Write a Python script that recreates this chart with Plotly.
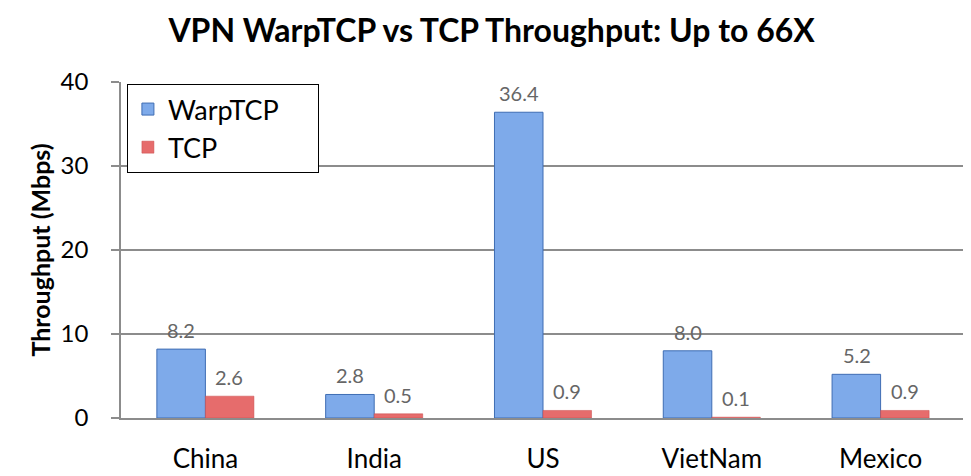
import plotly.graph_objects as go

countries = ["China", "India", "US", "VietNam", "Mexico"]
warptcp = [8.2, 2.8, 36.4, 8.0, 5.2]
tcp = [2.6, 0.5, 0.9, 0.1, 0.9]
y_ticks = [0, 10, 20, 30, 40]

FONT = "Lato, Carlito, Calibri, sans-serif"
PAD = "\u00a0\u00a0\u00a0\u00a0\u00a0"

fig = go.Figure()
fig.add_trace(go.Bar(
    x=countries, y=warptcp, name="WarpTCP" + PAD, legendgroup="a",
    marker=dict(color="#7eaaea", line=dict(color="#3f6db3", width=1)),
))
fig.add_trace(go.Bar(
    x=countries, y=tcp, name="TCP", legendgroup="b",
    marker=dict(color="#e66c6c", line=dict(color="#c94b4b", width=0.5)),
))

for vals, shift in ((warptcp, -24), (tcp, 24)):
    for c, v in zip(countries, vals):
        fig.add_annotation(
            x=c, y=v, xref="x", yref="y", text=f"{v:.1f}", showarrow=False,
            xshift=shift, yshift=5, yanchor="bottom",
            font=dict(family=FONT, size=20, color="#666666"),
        )

fig.update_layout(
    width=971, height=476,
    margin=dict(l=113, r=14, t=74, b=66, autoexpand=False),
    paper_bgcolor="white", plot_bgcolor="white",
    barmode="group", bargap=0.425, bargroupgap=0,
    title=dict(
        text="<b>VPN WarpTCP vs TCP Throughput: Up to 66X</b>",
        x=0.498, xanchor="center", y=0.952, yanchor="middle",
        font=dict(family=FONT, size=32, color="black"),
    ),
    font=dict(family=FONT, color="black"),
    legend=dict(
        x=0.007, y=0.994, xanchor="left", yanchor="top",
        bgcolor="white", bordercolor="black", borderwidth=1,
        font=dict(family=FONT, size=27, color="black"),
        tracegroupgap=0, itemwidth=30,
    ),
    showlegend=True,
)

fig.update_yaxes(
    range=[0, 40], tickvals=y_ticks, ticktext=[str(t) for t in y_ticks],
    showgrid=True, gridcolor="#8c8c8c", gridwidth=1.5,
    showline=True, linecolor="#8c8c8c", linewidth=1.5,
    ticks="outside", ticklen=8, tickcolor="#8c8c8c", tickwidth=1.5,
    ticklabelstandoff=18,
    tickfont=dict(family=FONT, size=24, color="black"),
    title=dict(text="<b>Throughput (Mbps)</b>", font=dict(family=FONT, size=25, color="black"), standoff=3),
    zeroline=False, automargin=False,
)
fig.update_xaxes(
    showline=True, linecolor="#8c8c8c", linewidth=1.5,
    ticks="", showgrid=False,
    tickfont=dict(family=FONT, size=26, color="black"),
    ticklabelstandoff=17, automargin=False,
)

fig.write_html("out.html")
